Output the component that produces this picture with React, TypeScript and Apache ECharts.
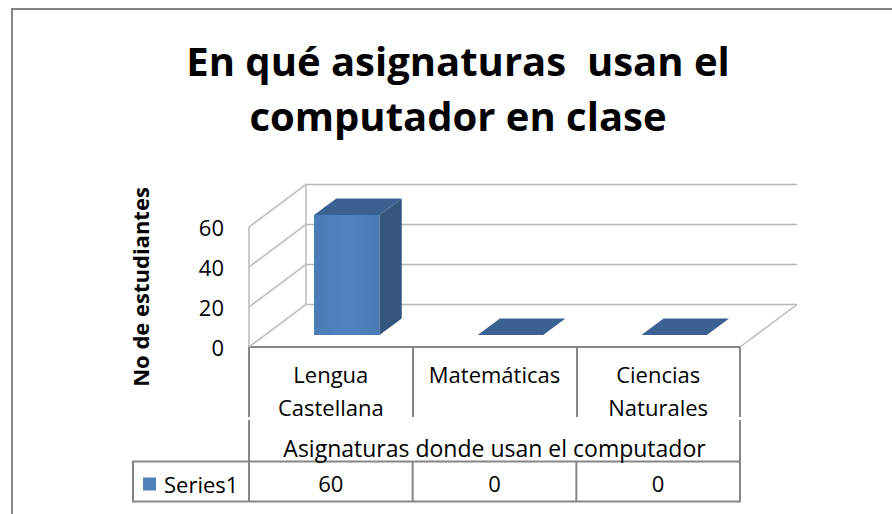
import React, { useEffect, useRef } from "react";
import * as echarts from "echarts";

const titleLines = ["En qué asignaturas  usan el", "computador en clase"];
const categories = ["Lengua Castellana", "Matemáticas", "Ciencias Naturales"];
const values = [60, 0, 0];
const yTicks = [0, 20, 40, 60];
const seriesName = "Series1";
const yAxisTitle = "No de estudiantes";
const xAxisTitle = "Asignaturas donde usan el computador";

const FONT = "'Open Sans', Lato, sans-serif";
const GRID_L = 249;
const GRID_T = 227;
const GRID_W = 491;
const GRID_H = 120;
const DX = 57;
const DY = -42.5;
const LINE = "#868686";
const GRIDLINE = "#B9B9B9";

export default function App() {
  const ref = useRef<HTMLDivElement>(null);
  useEffect(() => {
    if (!ref.current) return;
    const chart = echarts.init(ref.current, undefined, { renderer: "svg" });
    const cellW = GRID_W / categories.length;
    const rowTop = 461.5;
    const rowBot = 501.5;

    const graphics: any[] = [
      {
        type: "rect",
        shape: { x: 12, y: 9, width: 900, height: 520 },
        style: { fill: "none", stroke: LINE, lineWidth: 2 },
        silent: true,
      },
      {
        type: "text",
        x: 458,
        y: 33,
        style: {
          text: titleLines.join("\n"),
          textAlign: "center",
          textVerticalAlign: "top",
          fontFamily: FONT,
          fontWeight: "bold",
          fontSize: 40,
          lineHeight: 55,
          fill: "#000",
        },
      },
      { type: "line", shape: { x1: GRID_L, y1: 420, x2: GRID_L, y2: rowTop }, style: { stroke: LINE, lineWidth: 2 } },
      { type: "line", shape: { x1: GRID_L + GRID_W, y1: 420, x2: GRID_L + GRID_W, y2: rowTop }, style: { stroke: LINE, lineWidth: 2 } },
      { type: "rect", shape: { x: 133, y: rowTop, width: GRID_L + GRID_W - 133, height: rowBot - rowTop }, style: { fill: "none", stroke: LINE, lineWidth: 2 } },
    ];
    for (let i = 0; i < categories.length; i++) {
      const x = GRID_L + i * cellW;
      graphics.push({ type: "line", shape: { x1: x, y1: rowTop, x2: x, y2: rowBot }, style: { stroke: LINE, lineWidth: 2 } });
      graphics.push({
        type: "text",
        x: GRID_L + (i + 0.5) * cellW,
        y: (rowTop + rowBot) / 2 + 1.5,
        style: {
          text: String(values[i]),
          textAlign: "center",
          textVerticalAlign: "middle",
          fontFamily: FONT,
          fontSize: 22,
          fill: "#000",
        },
      });
    }

    const option: any = {
      animation: false,
      backgroundColor: "#fff",
      grid: { left: GRID_L, top: GRID_T, width: GRID_W, height: GRID_H, containLabel: false },
      legend: {
        data: [seriesName],
        left: 143,
        top: 470,
        padding: 0,
        icon: "rect",
        itemWidth: 13,
        itemHeight: 13,
        textStyle: { fontFamily: FONT, fontSize: 22, color: "#000", padding: [4, 0, 0, 3], lineHeight: 24 },
      },
      xAxis: {
        type: "category",
        data: categories,
        boundaryGap: true,
        axisLine: { show: true, lineStyle: { color: LINE, width: 2 } },
        axisTick: { show: true, length: 70, interval: 0, lineStyle: { color: LINE, width: 2 } },
        axisLabel: {
          interval: 0,
          margin: 10,
          fontFamily: FONT,
          fontSize: 22,
          lineHeight: 33,
          color: "#000",
          formatter: (v: string) => v.replace(" ", "\n"),
        },
        splitLine: { show: false },
        name: xAxisTitle,
        nameLocation: "middle",
        nameGap: 89,
        nameTextStyle: { fontFamily: FONT, fontSize: 23, color: "#000" },
      },
      yAxis: {
        type: "value",
        min: 0,
        max: 60,
        interval: 20,
        axisLine: { show: false },
        axisTick: { show: false },
        splitLine: { show: false },
        axisLabel: { margin: 25, fontFamily: FONT, fontSize: 22, color: "#000", padding: [7, 0, 0, 0] },
        name: yAxisTitle,
        nameLocation: "middle",
        nameRotate: 90,
        nameGap: 98,
        nameTextStyle: { fontFamily: FONT, fontSize: 22, fontWeight: "bold", color: "#000" },
      },
      graphic: graphics,
      series: [
        {
          type: "custom",
          name: "walls",
          silent: true,
          z: 1,
          data: yTicks.map((v) => [0, v]),
          renderItem: (params: any, api: any) => {
            const cs = params.coordSys;
            const left = cs.x;
            const right = cs.x + cs.width;
            const v = api.value(1);
            const y = api.coord([0, v])[1];
            const st = { stroke: GRIDLINE, lineWidth: 1.5, fill: "none" };
            const children: any[] = [
              {
                type: "polyline",
                shape: { points: [[left, y], [left + DX, y + DY], [right + DX, y + DY]] },
                style: st,
              },
            ];
            if (v === 0) {
              children.push({ type: "line", shape: { x1: right, y1: y, x2: right + DX, y2: y + DY }, style: st });
              children.push({ type: "line", shape: { x1: left, y1: cs.y, x2: left, y2: cs.y + cs.height }, style: st });
              children.push({
                type: "line",
                shape: { x1: left + DX, y1: cs.y + DY, x2: left + DX, y2: cs.y + cs.height + DY },
                style: st,
              });
            }
            return { type: "group", children };
          },
        },
        {
          type: "custom",
          name: seriesName,
          z: 3,
          itemStyle: { color: "#4F81BD" },
          data: values.map((v, i) => [i, v]),
          renderItem: (params: any, api: any) => {
            const i = api.value(0);
            const val = api.value(1);
            const base = api.coord([i, 0]);
            const top = api.coord([i, val]);
            const band = api.size([1, 0])[0];
            const bw = band * 0.4;
            const f0 = 0.28;
            const f1 = 0.67;
            const ox = f0 * DX;
            const oy = f0 * DY;
            const ddx = (f1 - f0) * DX;
            const ddy = (f1 - f0) * DY;
            const xl = base[0] - bw / 2 + ox;
            const xr = xl + bw;
            const yb = base[1] + oy;
            const yt = top[1] + oy;
            const children: any[] = [];
            if (yb - yt > 0.5) {
              children.push({
                type: "rect",
                shape: { x: xl, y: yt, width: bw, height: yb - yt },
                style: {
                  fill: new echarts.graphic.LinearGradient(0, 0, 1, 0, [
                    { offset: 0, color: "#4A7BB7" },
                    { offset: 0.5, color: "#5083C0" },
                    { offset: 1, color: "#4A7BB7" },
                  ]),
                },
              });
              children.push({
                type: "polygon",
                shape: { points: [[xr, yt], [xr + ddx, yt + ddy], [xr + ddx, yb + ddy], [xr, yb]] },
                style: { fill: "#34567F" },
              });
            }
            children.push({
              type: "polygon",
              shape: { points: [[xl, yt], [xr, yt], [xr + ddx, yt + ddy], [xl + ddx, yt + ddy]] },
              style: { fill: "#3B6192" },
            });
            return { type: "group", children };
          },
        },
      ],
    };
    chart.setOption(option);
    return () => chart.dispose();
  }, []);
  return <div ref={ref} style={{ position: "absolute", left: 0, top: 0, width: 892, height: 514 }} />;
}
